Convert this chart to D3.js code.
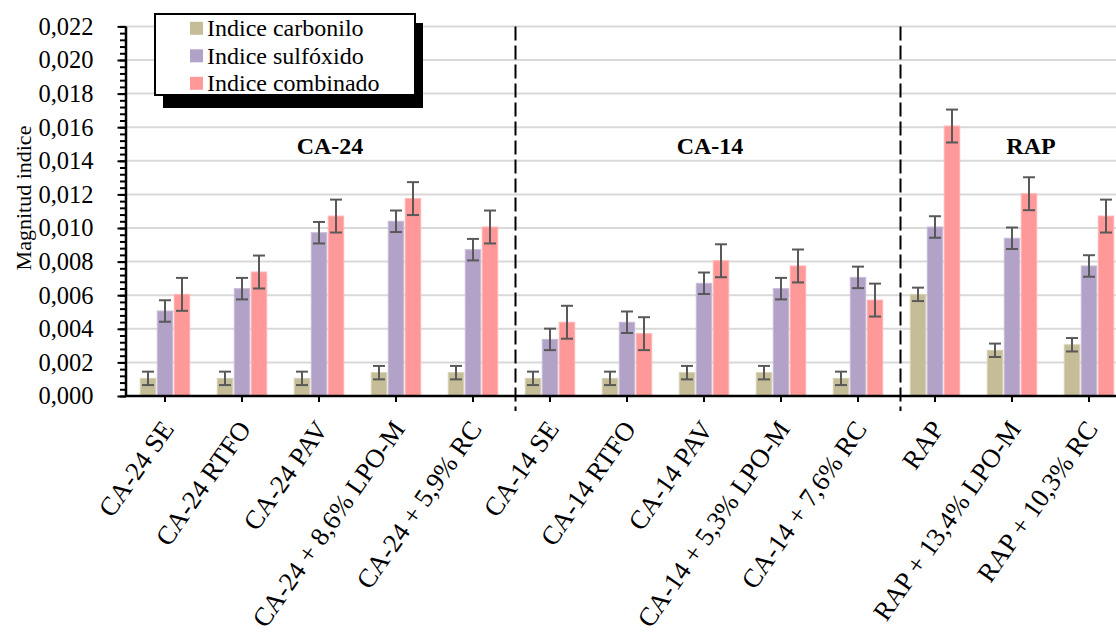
<!DOCTYPE html>
<html>
<head>
<meta charset="utf-8">
<script src="https://cdn.jsdelivr.net/npm/d3@7"></script>
<style>
  html, body { margin: 0; padding: 0; background: #fff; }
  svg { display: block; font-family: "Liberation Serif", "Times New Roman", serif; }
  svg text { font-family: "Liberation Serif", "Times New Roman", serif; }
</style>
</head>
<body>
<svg id="chart" width="1116" height="634"></svg>
<script>
const categories = [
  "CA-24 SE", "CA-24 RTFO", "CA-24 PAV", "CA-24 + 8,6% LPO-M", "CA-24 + 5,9% RC",
  "CA-14 SE", "CA-14 RTFO", "CA-14 PAV", "CA-14 + 5,3% LPO-M", "CA-14 + 7,6% RC",
  "RAP", "RAP + 13,4% LPO-M", "RAP + 10,3% RC"
];
const seriesNames = ["Indice carbonilo", "Indice sulfóxido", "Indice combinado"];
const carbonilo = [0.00105, 0.00105, 0.00105, 0.00139, 0.00139, 0.00105, 0.00105, 0.00139, 0.00139, 0.00105, 0.00605, 0.00272, 0.00305];
const sulfoxido = [0.00506, 0.00639, 0.00972, 0.01040, 0.00871, 0.00337, 0.00439, 0.00671, 0.00639, 0.00706, 0.01006, 0.00939, 0.00774];
const combinado = [0.00605, 0.00738, 0.01071, 0.01175, 0.01006, 0.00439, 0.00371, 0.00805, 0.00774, 0.00571, 0.01607, 0.01204, 0.01071];
const errCarbonilo = [0.0004, 0.0004, 0.0004, 0.0004, 0.0004, 0.0004, 0.0004, 0.0004, 0.0004, 0.0004, 0.0004, 0.0004, 0.0004];
const errSulfoxido = [0.00064, 0.00064, 0.00064, 0.00064, 0.00064, 0.00064, 0.00064, 0.00064, 0.00064, 0.00064, 0.00064, 0.00064, 0.00064];
const errCombinado = [0.00098, 0.00098, 0.00098, 0.00098, 0.00098, 0.00098, 0.00098, 0.00098, 0.00098, 0.00098, 0.00098, 0.00098, 0.00098];
const yTicks = [0, 0.002, 0.004, 0.006, 0.008, 0.010, 0.012, 0.014, 0.016, 0.018, 0.020, 0.022];
const groups = [
  { name: "CA-24", first: 0, last: 4 },
  { name: "CA-14", first: 5, last: 9 },
  { name: "RAP", first: 10, last: 12 }
];
const colors = ["#c4bd97", "#b3a2c7", "#ff9999"];
const strokeColors = ["#d6d1b4", "#c8bbd8", "#ffb5b5"];

const svg = d3.select("#chart");
const X0 = 126.5, STEP = 77;
const x = d3.scaleBand().domain(categories).range([X0, X0 + STEP * categories.length]).padding(0);
const xs = d3.scaleBand().domain(seriesNames).range([-25.5, 25.5]).paddingInner(0.09).paddingOuter(0.045);
const y = d3.scaleLinear().domain([0, 0.022]).range([396, 26.4]);
const axisX = 126;
const rightEdge = 1116;

// gridlines
svg.append("g").selectAll("line").data(yTicks.filter(d => d > 0)).join("line")
  .attr("x1", axisX).attr("x2", rightEdge)
  .attr("y1", d => y(d)).attr("y2", d => y(d))
  .attr("stroke", "#d9d9d9").attr("stroke-width", 2);

// bars
const seriesData = [
  { name: seriesNames[0], vals: carbonilo, errs: errCarbonilo },
  { name: seriesNames[1], vals: sulfoxido, errs: errSulfoxido },
  { name: seriesNames[2], vals: combinado, errs: errCombinado }
];
const barG = svg.append("g");
seriesData.forEach((s, si) => {
  const recs = categories.map((c, i) => ({ c, v: s.vals[i], e: s.errs[i] }));
  barG.append("g").selectAll("rect").data(recs).join("rect")
    .attr("x", d => x(d.c) + x.bandwidth() / 2 + xs(s.name))
    .attr("width", xs.bandwidth())
    .attr("y", d => y(d.v))
    .attr("height", d => y(0) - y(d.v))
    .attr("fill", colors[si])
    .attr("stroke", strokeColors[si]).attr("stroke-width", 1);
});
// error bars
const errG = svg.append("g").attr("stroke", "#595959").attr("stroke-width", 2);
seriesData.forEach((s, si) => {
  const recs = categories.map((c, i) => ({ c, v: s.vals[i], e: s.errs[i] }));
  const cx = d => x(d.c) + x.bandwidth() / 2 + xs(s.name) + xs.bandwidth() / 2;
  const g = errG.append("g");
  g.selectAll("line.v").data(recs).join("line").attr("class", "v")
    .attr("x1", cx).attr("x2", cx)
    .attr("y1", d => y(d.v + d.e)).attr("y2", d => y(d.v - d.e));
  g.selectAll("line.t").data(recs).join("line").attr("class", "t")
    .attr("x1", d => cx(d) - 6).attr("x2", d => cx(d) + 6)
    .attr("y1", d => y(d.v + d.e)).attr("y2", d => y(d.v + d.e));
  g.selectAll("line.b").data(recs).join("line").attr("class", "b")
    .attr("x1", d => cx(d) - 6).attr("x2", d => cx(d) + 6)
    .attr("y1", d => y(d.v - d.e)).attr("y2", d => y(d.v - d.e));
});

// group separators (dashed)
const seps = groups.slice(1).map(g => x(categories[g.first]) + 4);
svg.append("g").selectAll("line").data(seps).join("line")
  .attr("x1", d => d).attr("x2", d => d)
  .attr("y1", y(0.022)).attr("y2", 411)
  .attr("stroke", "#000").attr("stroke-width", 2).attr("stroke-dasharray", "14,5");

// group labels
const groupDx = [11, 6, 19];
svg.append("g").selectAll("text").data(groups).join("text")
  .attr("x", (g, i) => (x(categories[g.first]) + x(categories[g.last]) + x.bandwidth()) / 2 + groupDx[i])
  .attr("y", 154)
  .attr("text-anchor", "middle")
  .attr("font-weight", "bold").attr("font-size", 24)
  .text(g => g.name);

// y axis
const yAxisMinor = d3.axisLeft(y).tickValues(d3.range(0, 0.0221, 0.0004)).tickSize(6).tickFormat("");
svg.append("g").attr("transform", `translate(${axisX},0)`).call(yAxisMinor)
  .call(g => g.select(".domain").remove())
  .call(g => g.selectAll("line").attr("stroke", "#000").attr("stroke-width", 2));
const yAxis = d3.axisLeft(y).tickValues(yTicks).tickSize(8.5).tickPadding(24)
  .tickFormat(d => d3.format(".3f")(d).replace(".", ","));
svg.append("g").attr("transform", `translate(${axisX},0)`).call(yAxis)
  .attr("font-family", null)
  .call(g => g.select(".domain").attr("stroke", "#000").attr("stroke-width", 2.5).attr("d", `M0,${y(0.022)}V${y(0)}`))
  .call(g => g.selectAll("line").attr("stroke", "#000").attr("stroke-width", 2))
  .call(g => g.selectAll("text").attr("font-family", "Liberation Serif").attr("font-size", 24.5).attr("fill", "#000"));

// x axis
const xAxis = d3.axisBottom(x).tickSize(6).tickSizeOuter(0).tickFormat("");
const xg = svg.append("g").attr("transform", `translate(0,${y(0)})`).call(xAxis);
xg.select(".domain").attr("d", `M${axisX},0H${rightEdge}`).attr("stroke", "#000").attr("stroke-width", 2.5);
xg.selectAll("line").attr("stroke", "#000").attr("stroke-width", 2);

// x labels
svg.append("g").selectAll("text").data(categories).join("text")
  .attr("transform", d => `translate(${x(d) + x.bandwidth() / 2 + 10},${429}) rotate(-55)`)
  .attr("text-anchor", "end")
  .attr("font-size", 26.5)
  .text(d => d);

// y label
svg.append("text")
  .attr("transform", `translate(31,198) rotate(-90)`)
  .attr("text-anchor", "middle")
  .attr("font-size", 22)
  .text("Magnitud indice");

// legend
const lg = svg.append("g");
lg.append("rect").attr("x", 163).attr("y", 23).attr("width", 260).attr("height", 85).attr("fill", "#000");
lg.append("rect").attr("x", 155).attr("y", 14).attr("width", 260).attr("height", 81)
  .attr("fill", "#fff").attr("stroke", "#000").attr("stroke-width", 2);
const items = lg.selectAll("g.item").data(seriesNames).join("g").attr("class", "item")
  .attr("transform", (d, i) => `translate(190,${28.3 + i * 27.5})`);
items.append("rect").attr("x", 0).attr("y", -6.5).attr("width", 13).attr("height", 13)
  .attr("fill", (d, i) => colors[i]);
items.append("text").attr("x", 17).attr("y", 0).attr("dy", "0.33em")
  .attr("font-size", 24).text(d => d);
</script>
</body>
</html>
